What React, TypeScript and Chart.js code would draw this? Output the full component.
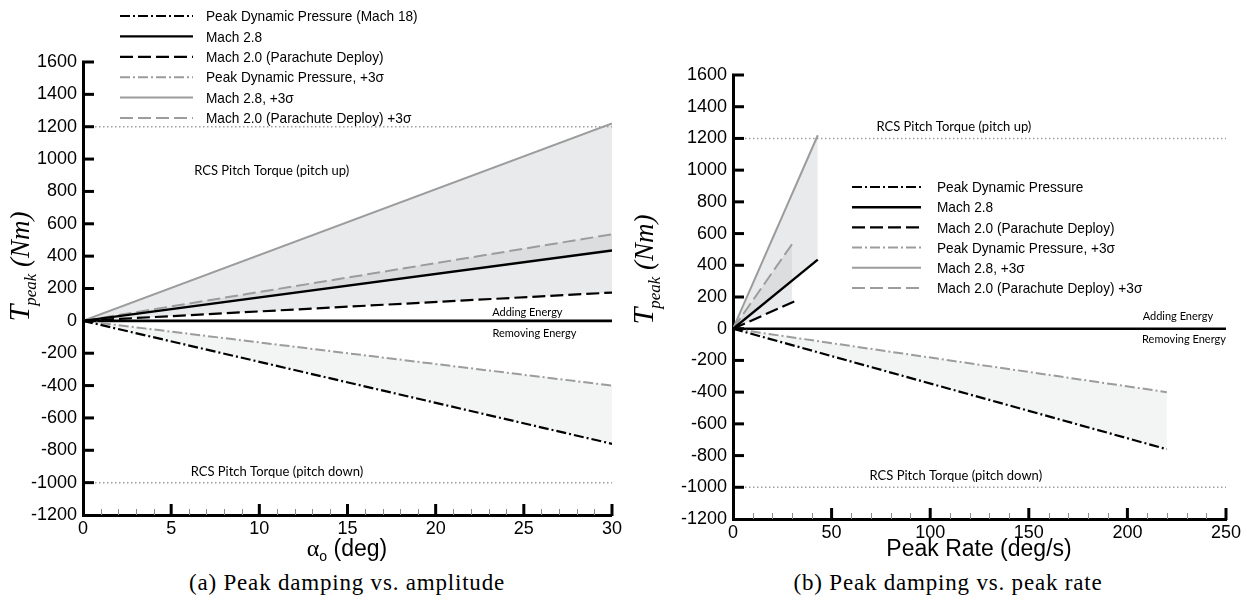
import React, { useEffect, useRef } from "react";
import { Chart, registerables } from "chart.js";
Chart.register(...registerables);

// ---------- Panel (a): peak damping vs amplitude ----------
const A_X = [0, 30];
const A_PEAK_Q = [0, -760];
const A_MACH28 = [0, 435];
const A_MACH20 = [0, 175];
const A_PEAK_Q_3S = [0, -400];
const A_MACH28_3S = [0, 1220];
const A_MACH20_3S = [0, 535];
const A_LABELS = [
  "Peak Dynamic Pressure (Mach 18)",
  "Mach 2.8",
  "Mach 2.0 (Parachute Deploy)",
  "Peak Dynamic Pressure, +3σ",
  "Mach 2.8, +3σ",
  "Mach 2.0 (Parachute Deploy) +3σ",
];

// ---------- Panel (b): peak damping vs peak rate ----------
const B_PEAK_Q_X = [0, 220];
const B_MACH28_X = [0, 43];
const B_MACH20_X = [0, 31.5];
const B_PEAK_Q_3S_X = [0, 220];
const B_MACH28_3S_X = [0, 43];
const B_MACH20_3S_X = [0, 30];
const B_PEAK_Q = [0, -760];
const B_MACH28 = [0, 436];
const B_MACH20 = [0, 174];
const B_PEAK_Q_3S = [0, -400];
const B_MACH28_3S = [0, 1220];
const B_MACH20_3S = [0, 534];
const B_LABELS = [
  "Peak Dynamic Pressure",
  "Mach 2.8",
  "Mach 2.0 (Parachute Deploy)",
  "Peak Dynamic Pressure, +3σ",
  "Mach 2.8, +3σ",
  "Mach 2.0 (Parachute Deploy) +3σ",
];

// ---------- shared ----------
const RCS_UP = 1200;
const RCS_DOWN = -1000;
const Y_MIN = -1200;
const Y_MAX = 1600;
const Y_STEP = 200;
const A_X_MAX = 30;
const A_X_MAJOR = 5;
const A_X_MINOR = 1;
const B_X_MAX = 250;
const B_X_MAJOR = 50;
const B_X_MINOR = 10;

const FONT_SANS = '"Liberation Sans", Arial, Helvetica, sans-serif';
const FONT_NOTE = 'Lato, "Open Sans", sans-serif';
const FONT_SERIF = '"Liberation Serif", "Times New Roman", serif';

const BLACK = "#000000";
const GRAY = "#9c9c9c";
const DOT_GRAY = "#a0a0a0";
const DASHDOT = [10, 3, 2, 3];
const DASH = [13, 5];
const UP_FILL = "rgba(201,203,206,0.40)";
const LOW_FILL = "rgba(201,203,206,0.22)";

const pts = (xs: number[], ys: number[]) => xs.map((x, i) => ({ x, y: ys[i] }));

function buildDatasets(labels: string[], xs: number[][], ys: number[][], xMax: number) {
  return [
    { label: labels[0], data: pts(xs[0], ys[0]), borderColor: BLACK, borderWidth: 2.2, borderDash: DASHDOT, fill: { target: 3, above: LOW_FILL, below: LOW_FILL } },
    { label: labels[1], data: pts(xs[1], ys[1]), borderColor: BLACK, borderWidth: 2.4, borderDash: [], fill: false },
    { label: labels[2], data: pts(xs[2], ys[2]), borderColor: BLACK, borderWidth: 2.2, borderDash: DASH, fill: false },
    { label: labels[3], data: pts(xs[3], ys[3]), borderColor: GRAY, borderWidth: 2, borderDash: DASHDOT, fill: false },
    { label: labels[4], data: pts(xs[4], ys[4]), borderColor: GRAY, borderWidth: 2, borderDash: [], fill: { target: 1, above: UP_FILL, below: UP_FILL } },
    { label: labels[5], data: pts(xs[5], ys[5]), borderColor: GRAY, borderWidth: 2, borderDash: DASH, fill: { target: 2, above: UP_FILL, below: UP_FILL } },
    { label: "zero", data: pts([0, xMax], [0, 0]), borderColor: BLACK, borderWidth: 2.6, borderDash: [], fill: false },
    { label: "rcsUp", data: pts([0, xMax], [RCS_UP, RCS_UP]), borderColor: DOT_GRAY, borderWidth: 1.5, borderDash: [1.5, 2.5], fill: false },
    { label: "rcsDown", data: pts([0, xMax], [RCS_DOWN, RCS_DOWN]), borderColor: DOT_GRAY, borderWidth: 1.5, borderDash: [1.5, 2.5], fill: false },
  ];
}

function seg(ctx: CanvasRenderingContext2D, x1: number, y1: number, x2: number, y2: number) {
  ctx.beginPath();
  ctx.moveTo(x1, y1);
  ctx.lineTo(x2, y2);
  ctx.stroke();
}

type Note = { text: string; x: number; y: number; size: number };
type Cfg = {
  xMax: number;
  xMajor: number;
  xMinor: number;
  legend: { x0: number; x1: number; tx: number; y0: number; dy: number };
  notes: Note[];
  xTitle: { cx: number; cy: number; kind: "alpha" | "rate" };
  yTitle: { bx: number; cy: number };
};

function drawYTitle(ctx: CanvasRenderingContext2D, bx: number, cy: number) {
  const f1 = `italic 30px ${FONT_SERIF}`;
  const f2 = `italic 17px ${FONT_SERIF}`;
  const f3 = `italic 27px ${FONT_SERIF}`;
  ctx.save();
  ctx.translate(bx, cy);
  ctx.rotate(-Math.PI / 2);
  ctx.fillStyle = "#000";
  ctx.textAlign = "left";
  ctx.textBaseline = "alphabetic";
  ctx.font = f1;
  const w1 = ctx.measureText("T").width;
  ctx.font = f2;
  const w2 = ctx.measureText("peak").width;
  ctx.font = f3;
  const w3 = ctx.measureText(" (Nm)").width;
  let x = -(w1 + w2 + w3) / 2;
  ctx.font = f1;
  ctx.fillText("T", x, 0);
  x += w1 - 1;
  ctx.font = f2;
  ctx.fillText("peak", x, 7);
  x += w2;
  ctx.font = f3;
  ctx.fillText(" (Nm)", x, 0);
  ctx.restore();
}

function drawXTitle(ctx: CanvasRenderingContext2D, cx: number, cy: number, kind: "alpha" | "rate") {
  ctx.save();
  ctx.fillStyle = "#000";
  ctx.textAlign = "left";
  ctx.textBaseline = "alphabetic";
  if (kind === "rate") {
    ctx.font = `23px ${FONT_SANS}`;
    const w = ctx.measureText("Peak Rate (deg/s)").width;
    ctx.fillText("Peak Rate (deg/s)", cx - w / 2, cy + 8);
  } else {
    const fa = `24px ${FONT_SERIF}`;
    const fo = `14px ${FONT_SANS}`;
    const fd = `23px ${FONT_SANS}`;
    ctx.font = fa;
    const wa = ctx.measureText("α").width;
    ctx.font = fo;
    const wo = ctx.measureText("o").width;
    ctx.font = fd;
    const wd = ctx.measureText(" (deg)").width;
    let x = cx - (wa + wo + wd) / 2;
    ctx.font = fa;
    ctx.fillText("α", x, cy + 8);
    x += wa;
    ctx.font = fo;
    ctx.fillText("o", x, cy + 13);
    x += wo;
    ctx.font = fd;
    ctx.fillText(" (deg)", x, cy + 8);
  }
  ctx.restore();
}

function makeDecor(cfg: Cfg) {
  return {
    id: "decor",
    afterDraw(chart: any) {
      const ctx: CanvasRenderingContext2D = chart.ctx;
      const a = chart.chartArea;
      const xs = chart.scales.x;
      const ys = chart.scales.y;
      ctx.save();
      ctx.globalAlpha = 1;
      ctx.setLineDash([]);
      ctx.lineCap = "butt";
      // minor x ticks (inward)
      ctx.strokeStyle = "#8c8c8c";
      ctx.lineWidth = 1;
      for (let v = cfg.xMinor; v < cfg.xMax; v += cfg.xMinor) {
        const r = v / cfg.xMajor;
        if (Math.abs(r - Math.round(r)) < 1e-6) continue;
        const px = Math.round(xs.getPixelForValue(v)) + 0.5;
        seg(ctx, px, a.bottom, px, a.bottom - 6);
      }
      // major x ticks (inward)
      ctx.strokeStyle = "#000000";
      ctx.lineWidth = 3;
      for (let k = 1; k * cfg.xMajor <= cfg.xMax + 1e-9; k++) {
        const px = xs.getPixelForValue(k * cfg.xMajor);
        seg(ctx, px, a.bottom + 1, px, a.bottom - 11);
      }
      // major y ticks (inward)
      for (let k = 1; Y_MIN + k * Y_STEP <= Y_MAX + 1e-9; k++) {
        const py = ys.getPixelForValue(Y_MIN + k * Y_STEP);
        seg(ctx, a.left - 1, py, a.left + 11, py);
      }
      // notes
      ctx.fillStyle = "#000";
      ctx.textAlign = "center";
      ctx.textBaseline = "middle";
      for (const n of cfg.notes) {
        ctx.font = `${n.size}px ${FONT_NOTE}`;
        ctx.fillText(n.text, xs.getPixelForValue(n.x), ys.getPixelForValue(n.y));
      }
      // legend
      const L = cfg.legend;
      ctx.textAlign = "left";
      ctx.font = `15px ${FONT_SANS}`;
      chart.data.datasets.slice(0, 6).forEach((ds: any, i: number) => {
        const y = L.y0 + i * L.dy;
        ctx.strokeStyle = ds.borderColor;
        ctx.lineWidth = ds.borderWidth;
        ctx.setLineDash(ds.borderDash || []);
        seg(ctx, L.x0, y, L.x1, y);
        ctx.setLineDash([]);
        ctx.fillStyle = "#000";
        ctx.save();
        ctx.translate(L.tx, y + 1);
        ctx.scale(0.91, 1);
        ctx.fillText(ds.label, 0, 0);
        ctx.restore();
      });
      drawXTitle(ctx, cfg.xTitle.cx, cfg.xTitle.cy, cfg.xTitle.kind);
      drawYTitle(ctx, cfg.yTitle.bx, cfg.yTitle.cy);
      ctx.restore();
    },
  };
}

function makeOptions(xMax: number, xStep: number, padTop: number, padRight: number, yWidth: number, xHeight: number) {
  const tickFont = { family: FONT_SANS, size: 18 };
  const plain = (v: any) => String(v);
  return {
    animation: false,
    responsive: false,
    maintainAspectRatio: false,
    layout: { padding: { top: padTop, right: padRight, left: 0, bottom: 0 } },
    plugins: {
      legend: { display: false },
      tooltip: { enabled: false },
      filler: { drawTime: "beforeDatasetsDraw" },
    },
    elements: { point: { radius: 0 }, line: { tension: 0 } },
    scales: {
      x: {
        type: "linear",
        min: 0,
        max: xMax,
        ticks: { stepSize: xStep, color: "#000", font: tickFont, padding: 3, maxRotation: 0, autoSkip: false, callback: plain },
        grid: { drawOnChartArea: false, drawTicks: false },
        border: { display: true, color: "#000", width: 3 },
        afterFit: (s: any) => {
          s.height = xHeight;
        },
      },
      y: {
        type: "linear",
        min: Y_MIN,
        max: Y_MAX,
        ticks: { stepSize: Y_STEP, color: "#000", font: tickFont, padding: 6, autoSkip: false, callback: plain },
        grid: { drawOnChartArea: false, drawTicks: false },
        border: { display: true, color: "#000", width: 3 },
        afterFit: (s: any) => {
          s.width = yWidth;
        },
      },
    },
  };
}

function Panel(props: { which: "a" | "b"; width: number; height: number }) {
  const ref = useRef<HTMLCanvasElement | null>(null);
  useEffect(() => {
    if (!ref.current) return;
    let chart: Chart;
    if (props.which === "a") {
      const datasets = buildDatasets(
        A_LABELS,
        [A_X, A_X, A_X, A_X, A_X, A_X],
        [A_PEAK_Q, A_MACH28, A_MACH20, A_PEAK_Q_3S, A_MACH28_3S, A_MACH20_3S],
        A_X_MAX
      );
      const cfg: Cfg = {
        xMax: A_X_MAX,
        xMajor: A_X_MAJOR,
        xMinor: A_X_MINOR,
        legend: { x0: 120, x1: 193, tx: 206, y0: 16, dy: 20.4 },
        notes: [
          { text: "RCS Pitch Torque (pitch up)", x: 10.7, y: 927, size: 13 },
          { text: "RCS Pitch Torque (pitch down)", x: 11, y: -933, size: 13 },
          { text: "Adding Energy", x: 25.2, y: 55, size: 11 },
          { text: "Removing Energy", x: 25.6, y: -80, size: 11 },
        ],
        xTitle: { cx: 347, cy: 548, kind: "alpha" },
        yTitle: { bx: 29, cy: 266 },
      };
      chart = new Chart(ref.current, {
        type: "line",
        data: { datasets } as any,
        options: makeOptions(A_X_MAX, A_X_MAJOR, 62, 13, 83, 55) as any,
        plugins: [makeDecor(cfg)],
      });
    } else {
      const datasets = buildDatasets(
        B_LABELS,
        [B_PEAK_Q_X, B_MACH28_X, B_MACH20_X, B_PEAK_Q_3S_X, B_MACH28_3S_X, B_MACH20_3S_X],
        [B_PEAK_Q, B_MACH28, B_MACH20, B_PEAK_Q_3S, B_MACH28_3S, B_MACH20_3S],
        B_X_MAX
      );
      const cfg: Cfg = {
        xMax: B_X_MAX,
        xMajor: B_X_MAJOR,
        xMinor: B_X_MINOR,
        legend: { x0: 227, x1: 296, tx: 312, y0: 187, dy: 20.2 },
        notes: [
          { text: "RCS Pitch Torque (pitch up)", x: 112, y: 1276, size: 13 },
          { text: "RCS Pitch Torque (pitch down)", x: 113, y: -925, size: 13 },
          { text: "Adding Energy", x: 225.6, y: 75, size: 11 },
          { text: "Removing Energy", x: 228.7, y: -65, size: 11 },
        ],
        xTitle: { cx: 354, cy: 548, kind: "rate" },
        yTitle: { bx: 28, cy: 269 },
      };
      chart = new Chart(ref.current, {
        type: "line",
        data: { datasets } as any,
        options: makeOptions(B_X_MAX, B_X_MAJOR, 75, 21, 108, 51) as any,
        plugins: [makeDecor(cfg)],
      });
    }
    return () => chart.destroy();
  }, [props.which]);
  return <canvas ref={ref} width={props.width} height={props.height} style={{ display: "block", width: props.width, height: props.height }} />;
}

const captionStyle: React.CSSProperties = {
  position: "absolute",
  top: 570,
  width: 400,
  textAlign: "center",
  fontFamily: FONT_SERIF,
  fontSize: 23,
  letterSpacing: "0.8px",
  color: "#000",
  lineHeight: "26px",
  whiteSpace: "nowrap",
};

export default function App() {
  return (
    <div style={{ position: "absolute", left: 0, top: 0, width: 1247, height: 605, background: "#fff", overflow: "hidden" }}>
      <div style={{ position: "absolute", left: 0, top: 0 }}>
        <Panel which="a" width={625} height={570} />
      </div>
      <div style={{ position: "absolute", left: 625, top: 0 }}>
        <Panel which="b" width={622} height={570} />
      </div>
      <div style={{ ...captionStyle, left: 347 - 200 }}>(a) Peak damping vs. amplitude</div>
      <div style={{ ...captionStyle, left: 948 - 200 }}>(b) Peak damping vs. peak rate</div>
    </div>
  );
}
